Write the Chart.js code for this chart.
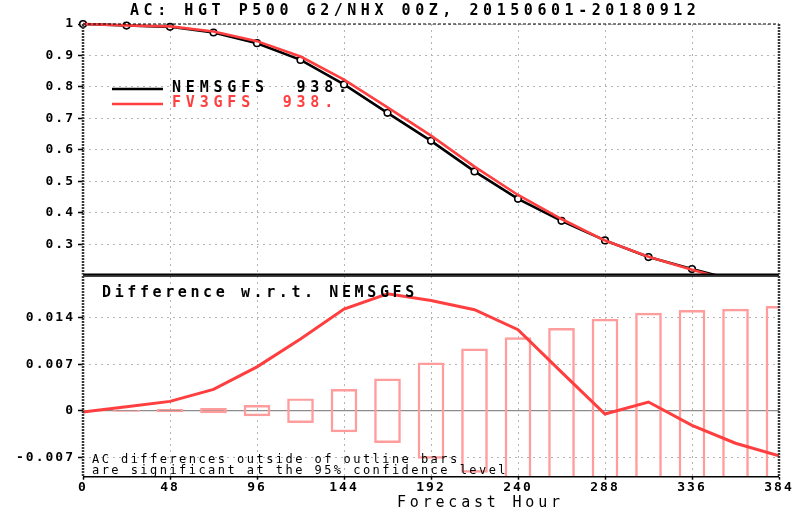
<!DOCTYPE html>
<html><head><meta charset="utf-8">
<script src="https://cdn.jsdelivr.net/npm/chart.js@4"></script>
<style>
html,body{margin:0;padding:0;background:#fff;}
#wrap{position:relative;width:798px;height:512px;overflow:hidden;background:#fff;}
#c1{position:absolute;left:0;top:0;}
#c2{position:absolute;left:0;top:270px;}
</style></head><body>
<div id="wrap">
<canvas id="c1" width="798" height="280" style="width:798px;height:280px"></canvas>
<canvas id="c2" width="798" height="242" style="width:798px;height:242px"></canvas>
</div>
<script>
// ---- data ----
const hours   = [0, 24, 48, 72, 96, 120, 144, 168, 192, 216, 240, 264, 288, 312, 336, 360, 384];
const nemsgfs = [1.000, 0.995, 0.991, 0.973, 0.939, 0.886, 0.808, 0.718, 0.629, 0.532, 0.445, 0.375, 0.313, 0.260, 0.222, 0.186, 0.155];
const fv3gfs  = [0.9998, 0.9956, 0.9924, 0.9762, 0.9456, 0.8968, 0.8233, 0.7356, 0.6456, 0.5472, 0.4572, 0.3808, 0.3125, 0.2613, 0.2198, 0.1811, 0.1482];
const diffFv3 = [-0.0002, 0.0006, 0.0014, 0.0032, 0.0066, 0.0108, 0.0153, 0.0176, 0.0166, 0.0152, 0.0122, 0.0058, -0.0005, 0.0013, -0.0022, -0.0049, -0.0068];
const ciHalf  = [0, 0.0001, 0.0002, 0.00035, 0.0008, 0.0018, 0.0032, 0.0048, 0.0072, 0.0093, 0.0110, 0.0124, 0.0138, 0.0147, 0.0151, 0.0153, 0.0157];
const xTicks = [0, 48, 96, 144, 192, 240, 288, 336, 384];
const xTickLabels = ['0', '48', '96', '144', '192', '240', '288', '336', '384'];
const topTicks = [0.3, 0.4, 0.5, 0.6, 0.7, 0.8, 0.9, 1.0];
const topTickLabels = ['0.3', '0.4', '0.5', '0.6', '0.7', '0.8', '0.9', '1'];
const botTicks = [-0.007, 0, 0.007, 0.014];
const botTickLabels = ['-0.007', '0', '0.007', '0.014'];
const titleText = 'AC: HGT P500 G2/NHX 00Z, 20150601-20180912';
const legendNames = ['NEMSGFS  938.', 'FV3GFS  938.'];
const diffTitle = 'Difference w.r.t. NEMSGFS';
const noteLines = ['AC differences outside of outline bars', 'are significant at the 95% confidence level'];
const xTitle = 'Forecast Hour';

// ---- styles ----
const MONO = "'DejaVu Sans Mono', 'Liberation Mono', monospace";
const RED = '#ff3f3f';
const BAR = '#ff9c9c';
const GRID = '#b4b4b4';

function spaced(ctx, text, x, y, font, spacing, color) {
  ctx.save();
  ctx.font = font; ctx.fillStyle = color;
  ctx.textAlign = 'left'; ctx.textBaseline = 'middle';
  if ('letterSpacing' in ctx) ctx.letterSpacing = spacing + 'px';
  ctx.fillText(text, x, y);
  ctx.restore();
}
function findIndex(list, v) { return list.findIndex(t => Math.abs(t - v) < 1e-9); }

const tickSpacing = {
  id: 'tickSpacing',
  beforeDraw(chart) { if ('letterSpacing' in chart.ctx) chart.ctx.letterSpacing = '2.0px'; },
  afterDraw(chart) { if ('letterSpacing' in chart.ctx) chart.ctx.letterSpacing = '0px'; }
};

function frame(ctx, a, topStyle) {
  ctx.save();
  ctx.strokeStyle = '#000';
  ctx.lineWidth = topStyle === 'dash' ? 1.2 : 1.6;
  ctx.setLineDash(topStyle === 'dash' ? [3, 2] : []);
  ctx.beginPath(); ctx.moveTo(a.left, a.top); ctx.lineTo(a.right, a.top); ctx.stroke();
  ctx.setLineDash([]); ctx.lineWidth = 1.6;
  ctx.beginPath(); ctx.moveTo(a.left, a.bottom); ctx.lineTo(a.right, a.bottom); ctx.stroke();
  ctx.strokeStyle = '#3a3a3a'; ctx.lineWidth = 2.5; ctx.setLineDash([2, 1]);
  ctx.beginPath(); ctx.moveTo(a.left, a.top); ctx.lineTo(a.left, a.bottom);
  ctx.moveTo(a.right, a.top); ctx.lineTo(a.right, a.bottom); ctx.stroke();
  ctx.restore();
}

const topDecor = {
  id: 'topDecor',
  afterDraw(chart) {
    const ctx = chart.ctx;
    frame(ctx, chart.chartArea, 'dash');
    spaced(ctx, titleText, 130, 11.5, 'bold 15px ' + MONO, 4.55, '#000');
    const colors = ['#000', RED];
    const ys = [89, 104];
    for (let i = 0; i < 2; i++) {
      ctx.save();
      ctx.strokeStyle = colors[i]; ctx.lineWidth = 2.5;
      ctx.beginPath(); ctx.moveTo(112, ys[i]); ctx.lineTo(163, ys[i]); ctx.stroke();
      ctx.restore();
      spaced(ctx, legendNames[i], 172, ys[i] - 1, 'bold 15px ' + MONO, 4.8, colors[i]);
    }
  }
};

const botDecor = {
  id: 'botDecor',
  beforeDatasetsDraw(chart) {
    const ctx = chart.ctx, a = chart.chartArea, y = chart.scales.y.getPixelForValue(0);
    ctx.save();
    ctx.strokeStyle = '#8c8c8c'; ctx.lineWidth = 1.2;
    ctx.beginPath(); ctx.moveTo(a.left, y); ctx.lineTo(a.right, y); ctx.stroke();
    ctx.restore();
  },
  afterDraw(chart) {
    const ctx = chart.ctx;
    frame(ctx, chart.chartArea, 'solid');
    spaced(ctx, diffTitle, 102, 293 - 270, 'bold 15px ' + MONO, 3.6, '#000');
    spaced(ctx, noteLines[0], 92, 460 - 270, '12px ' + MONO, 2.45, '#000');
    spaced(ctx, noteLines[1], 92, 471 - 270, '12px ' + MONO, 2.45, '#000');
    spaced(ctx, xTitle, 397, 503 - 270, '15px ' + MONO, 3.8, '#000');
  }
};

const xScaleBase = {
  type: 'linear', min: 0, max: 384, offset: false,
  afterBuildTicks: s => { s.ticks = xTicks.map(v => ({ value: v })); },
};

// ---- top panel ----
new Chart(document.getElementById('c1'), {
  type: 'line',
  data: {
    datasets: [
      { label: 'FV3GFS', data: hours.map((h, i) => ({ x: h, y: fv3gfs[i] })),
        borderColor: RED, borderWidth: 2.6, pointRadius: 0, tension: 0, order: 0,
        clip: { left: 5, top: 5, right: 0, bottom: 0 } },
      { label: 'NEMSGFS', data: hours.map((h, i) => ({ x: h, y: nemsgfs[i] })),
        borderColor: '#000', borderWidth: 2.6, pointRadius: 3.3, pointBorderWidth: 1.6,
        pointBorderColor: '#000', pointBackgroundColor: '#fff', tension: 0, order: 1,
        clip: { left: 5, top: 5, right: 0, bottom: 0 } }
    ]
  },
  options: {
    responsive: false, animation: false, events: [],
    layout: { padding: { left: 0, right: 19, top: 24, bottom: 0 } },
    plugins: { legend: { display: false }, tooltip: { enabled: false }, title: { display: false } },
    scales: {
      x: Object.assign({}, xScaleBase, {
        ticks: { display: false },
        grid: { color: GRID, lineWidth: 1, drawTicks: false, offset: false },
        border: { display: false, dash: [2, 4] },
        afterFit: s => { s.height = 4; s.paddingLeft = 0; s.paddingRight = 0; }
      }),
      y: {
        type: 'linear', min: 0.205, max: 1.0,
        afterBuildTicks: s => { s.ticks = topTicks.map(v => ({ value: v })); },
        ticks: { font: { family: MONO, size: 13, weight: 'bold' }, color: '#000', padding: 3,
                 callback: v => topTickLabels[findIndex(topTicks, v)] },
        grid: { color: GRID, lineWidth: 1, drawTicks: true, tickLength: 5, tickColor: '#000', tickWidth: 1.5 },
        border: { display: false, dash: [2, 4] },
        afterFit: s => { s.width = 83; s.paddingTop = 0; s.paddingBottom = 0; }
      }
    }
  },
  plugins: [tickSpacing, topDecor]
});

// ---- bottom panel ----
new Chart(document.getElementById('c2'), {
  type: 'line',
  data: {
    datasets: [
      { type: 'line', label: 'FV3GFS - NEMSGFS', data: hours.map((h, i) => ({ x: h, y: diffFv3[i] })),
        borderColor: RED, borderWidth: 3, pointRadius: 0, tension: 0, order: 0,
        clip: { left: 3, top: 0, right: 0, bottom: 0 } },
      { type: 'bar', label: '95% confidence', data: hours.map((h, i) => ({ x: h, y: [-ciHalf[i], ciHalf[i]] })).filter(d => d.y[1] > 0),
        backgroundColor: 'rgba(0,0,0,0)', borderColor: BAR, borderWidth: 1.8, borderSkipped: false,
        barThickness: 26, order: 1, clip: 0 }
    ]
  },
  options: {
    responsive: false, animation: false, events: [],
    layout: { padding: { left: 0, right: 19, top: 6, bottom: 0 } },
    plugins: { legend: { display: false }, tooltip: { enabled: false } },
    scales: {
      x: Object.assign({}, xScaleBase, {
        ticks: { font: { family: MONO, size: 13, weight: 'bold' }, color: '#000', padding: 0, maxRotation: 0, autoSkip: false,
                 callback: v => xTickLabels[findIndex(xTicks, v)] },
        grid: { color: GRID, lineWidth: 1, drawTicks: true, tickLength: 3, tickColor: '#000', tickWidth: 1.5, offset: false },
        border: { display: false, dash: [2, 4] },
        afterFit: s => { s.height = 35.3; s.paddingLeft = 0; s.paddingRight = 0; }
      }),
      y: {
        type: 'linear', min: -0.00994, max: 0.02028,
        afterBuildTicks: s => { s.ticks = botTicks.map(v => ({ value: v })); },
        ticks: { font: { family: MONO, size: 13, weight: 'bold' }, color: '#000', padding: 3,
                 callback: v => botTickLabels[findIndex(botTicks, v)] },
        grid: { color: c => (c.tick && Math.abs(c.tick.value) < 1e-12) ? 'rgba(0,0,0,0)' : GRID,
                lineWidth: 1, drawTicks: true, tickLength: 5, tickColor: '#000', tickWidth: 1.5 },
        border: { display: false, dash: [2, 4] },
        afterFit: s => { s.width = 83; s.paddingTop = 0; s.paddingBottom = 0; }
      }
    }
  },
  plugins: [tickSpacing, botDecor]
});
</script>
</body></html>
